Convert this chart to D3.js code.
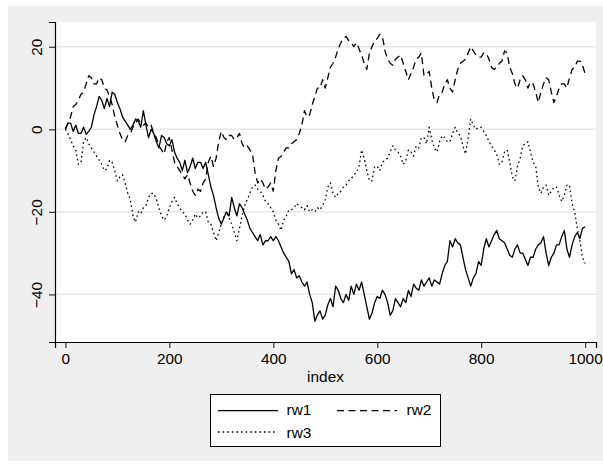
<!DOCTYPE html>
<html>
<head>
<meta charset="utf-8">
<script src="https://cdn.jsdelivr.net/npm/d3@7"></script>
<style>
  body { margin: 0; background: #ffffff; }
  text { font-family: "Liberation Sans", Arial, Helvetica, sans-serif; fill: #000; }
</style>
</head>
<body>
<div id="chart"></div>
<script>
const W = 603, H = 467;
const PLOT = { LEFT: 55, RIGHT: 596, TOP: 22, BOTTOM: 342 };

// index, read every 5 obs
const index = d3.range(0, 1001, 5);
const rw1 = [
  0, 1.5, 1.5, -0.5, 1, -1, -1, 0.5, -1.2, -0.5, 0.5, 3.5, 5.5, 8, 7, 5, 7.5, 5.5, 9, 8.5,
  6.5, 5, 3, 2, 1, 0, 1, 2.5, 2, 0.5, 4.5, 1, -2, 0, -1, -3, -4.5, -1.5, -2, -3.5,
  -4, -2.5, -5.5, -7, -8, -10, -7.5, -10.5, -9, -7, -9.5, -8, -8, -9.5, -8, -11, -14, -16, -19, -21.5,
  -23, -21.5, -20, -21, -16.5, -19, -21, -18, -19, -20.5, -22, -24, -25, -26, -27, -25.5, -28, -27, -27, -26,
  -27, -26, -27, -28.5, -30, -31, -32, -35, -34, -36, -35.5, -37, -38, -37, -40, -42, -46.5, -45, -44, -46,
  -45, -42.5, -41, -43, -38, -39, -41, -42, -40, -41.5, -38, -40, -37.5, -39, -37, -40, -43, -46, -44.5, -42,
  -40.5, -41, -39, -40, -42, -45, -44, -41, -42, -43, -41, -42, -39, -40.5, -37.5, -38.5, -39, -36.5, -38, -37,
  -36, -38, -36.5, -37, -37.5, -35, -33, -32, -27, -28.5, -26.5, -27.5, -28, -31, -34, -36, -38, -36, -35, -32,
  -33, -29, -26.5, -28.5, -27, -25.5, -24.5, -26.5, -27, -27.5, -29, -30.5, -31, -29, -28, -30, -30, -31.5, -33, -31,
  -31, -29, -28, -27.5, -26, -30, -33, -31, -30, -28, -28, -26, -24.5, -29, -31, -28, -26, -25, -26.5, -24,
  -23.6];
const rw2 = [
  0, 1.5, 3, 5.5, 6, 7, 8.5, 9, 11, 13, 12.5, 11, 11, 12.5, 12, 10, 9.5, 8, 6, 3,
  1, -1, -2.5, -3, -1.5, -1, 0.5, 1.5, 2.5, 1.5, 1, 1.5, 0.5, 1, -1, -2, -4, -5, -6, -3,
  -2, -5, -8, -9, -10, -11, -12, -11, -13, -15, -16, -14.5, -15, -13, -12, -8, -6.5, -9, -7, -3,
  -0.5, -2, -2.5, -1.5, -1.5, -2.5, -2, -1, -3.5, -4.5, -4, -5, -6, -10.5, -13, -12, -13, -14.5, -14, -13,
  -15, -10, -7, -6.5, -5.5, -4.5, -4.5, -3.5, -3, -2.5, -1, 1, 4.5, 3, 3.5, 6, 8, 10, 10, 12,
  10, 12.5, 15, 16, 17.5, 19.5, 21, 22, 22.5, 21.5, 21, 20, 21, 19.5, 18, 16, 14.5, 18.5, 20, 21.5,
  22, 23, 22.5, 19, 17, 16, 15.5, 17, 17.5, 18, 16, 14, 12, 13.5, 15, 17, 17.5, 18.5, 13, 13.5,
  14, 10, 7, 6.5, 8.5, 9, 11, 12, 10, 9, 12, 14.5, 16, 16.5, 17, 18.5, 20, 19, 18, 17.5,
  17.5, 18.5, 18.5, 17, 15, 14.5, 15, 16, 16.5, 19, 18.5, 15, 13.5, 11, 10, 12, 13, 12, 10, 11.5,
  11, 9, 6.5, 9, 11, 12.5, 12, 9, 6.5, 8, 10, 11, 11, 10, 12.5, 14.5, 15, 16.5, 16.5, 15.5,
  13.5];
const rw3 = [
  0, -1, -2.5, -4, -5, -8.5, -8, -3, -2, -3.5, -4.5, -5.5, -6.5, -7.5, -8.5, -10, -9.5, -7.5, -8, -10,
  -12.5, -11.5, -11, -13, -15.5, -17, -21, -22.5, -20, -20.5, -19, -18.5, -16.5, -15.5, -15.5, -17, -19, -21, -22, -21,
  -19, -17.5, -16.5, -18, -19, -20, -20.5, -22, -23, -22, -20.5, -21.5, -21, -20, -20, -22.5, -23, -25, -27, -25,
  -23, -21, -20, -21.5, -23, -25, -27, -24, -21, -18.5, -17, -15.5, -14, -13.5, -14.5, -15, -16, -17.5, -18, -19,
  -20, -22, -23, -24.5, -22, -21, -19.5, -19.5, -19, -18, -18.5, -19, -19.5, -18.5, -20, -19.5, -20, -19, -19.5, -18.5,
  -17, -14, -13, -15.5, -16.5, -15.5, -15, -14, -13.5, -12.5, -12, -11, -10.5, -9, -5, -7, -10, -12.5, -12.5, -9,
  -9, -10, -8, -7.5, -7, -5.5, -4, -5, -5.5, -6.5, -8.5, -7.5, -5, -5.5, -6.5, -4, -4.5, -2, -2, -3.5,
  0.5, -2.5, -4.5, -5.5, -3, -1.5, -2, -3, -3, -1, 0.5, -1, -1.5, -4, -6, -2, 2.5, 1, 0, 0.5,
  0.5, -0.5, -1.5, -3, -4, -5, -6, -8.5, -8, -5.5, -5, -8, -11.5, -12.5, -9, -7, -4, -3.5, -3, -5.5,
  -8, -9, -14, -15.5, -14, -13.5, -16, -15, -14, -14, -16, -17.5, -16, -13.5, -13.5, -18, -20, -24, -27, -31,
  -32.5];

const seriesNames = ['rw1', 'rw2', 'rw3'];
const seriesData = [rw1, rw2, rw3];
const dashes = [null, '7,4.5', '1.6,3'];
const xTicks = [0, 200, 400, 600, 800, 1000];
const yTicks = [-40, -20, 0, 20];

const svg = d3.select('#chart').append('svg')
  .attr('width', W)
  .attr('height', H);

svg.append('rect')
  .attr('x', 8).attr('y', 6)
  .attr('width', W - 8).attr('height', 455)
  .attr('fill', '#efefef');

svg.append('rect')
  .attr('x', PLOT.LEFT).attr('y', PLOT.TOP)
  .attr('width', PLOT.RIGHT - PLOT.LEFT).attr('height', PLOT.BOTTOM - PLOT.TOP)
  .attr('fill', '#fff');

const x = d3.scaleLinear().domain([-20, 1021]).range([PLOT.LEFT, PLOT.RIGHT]);
const y = d3.scaleLinear().domain([-51.53, 26]).range([PLOT.BOTTOM, PLOT.TOP]);

// gridlines
svg.append('g')
  .selectAll('line')
  .data(yTicks)
  .enter().append('line')
    .attr('x1', PLOT.LEFT).attr('x2', PLOT.RIGHT)
    .attr('y1', d => y(d)).attr('y2', d => y(d))
    .attr('stroke', '#e6e6e6')
    .attr('stroke-width', 1.4);

// series
const line = d3.line()
  .x((d, i) => x(index[i]))
  .y(d => y(d));

svg.append('g')
  .selectAll('path')
  .data(seriesData)
  .enter().append('path')
    .attr('d', line)
    .attr('fill', 'none')
    .attr('stroke', '#000')
    .attr('stroke-width', 1.3)
    .attr('stroke-linejoin', 'round')
    .attr('stroke-dasharray', (d, i) => dashes[i]);

// axes
const xAxis = svg.append('g')
  .attr('transform', `translate(0, ${PLOT.BOTTOM})`)
  .call(d3.axisBottom(x).tickValues(xTicks).tickFormat(d3.format('d'))
    .tickSizeOuter(0).tickSize(6).tickPadding(5));
const yAxis = svg.append('g')
  .attr('transform', `translate(${PLOT.LEFT}, 0)`)
  .call(d3.axisLeft(y).tickValues(yTicks).tickSizeOuter(0).tickSize(6));

[xAxis, yAxis].forEach(g => {
  g.select('.domain').attr('stroke', '#000').attr('stroke-width', 1.2);
  g.selectAll('.tick line').attr('stroke', '#333').attr('stroke-width', 1.2);
  g.selectAll('.tick text').style('font-size', '15.4px').attr('fill', '#000');
});

yAxis.selectAll('.tick text')
  .attr('transform', 'rotate(-90)')
  .attr('x', 0)
  .attr('y', -13)
  .attr('dy', 0)
  .attr('text-anchor', 'middle');

svg.append('text')
  .attr('x', (PLOT.LEFT + PLOT.RIGHT) / 2)
  .attr('y', 382)
  .attr('text-anchor', 'middle')
  .style('font-size', '15.4px')
  .text('index');

// legend
const legend = svg.append('g');
legend.append('rect')
  .attr('x', 210.5).attr('y', 394.5)
  .attr('width', 230).attr('height', 52)
  .attr('fill', '#fff')
  .attr('stroke', '#000')
  .attr('stroke-width', 1);

const legendPos = [
  { lx: 218, ly: 410.7, tx: 286.5, ty: 415 },
  { lx: 337, ly: 410.7, tx: 406.5, ty: 415 },
  { lx: 218, ly: 432, tx: 286.5, ty: 437.5 }
];

legend.selectAll('.item')
  .data(seriesNames)
  .enter().append('g')
  .each(function (name, i) {
    const p = legendPos[i];
    const g = d3.select(this);
    g.append('line')
      .attr('x1', p.lx).attr('x2', p.lx + 60)
      .attr('y1', p.ly).attr('y2', p.ly)
      .attr('stroke', '#000')
      .attr('stroke-width', 1.3)
      .attr('stroke-dasharray', dashes[i]);
    g.append('text')
      .attr('x', p.tx).attr('y', p.ty)
      .style('font-size', '15.4px')
      .text(name);
  });
</script>
</body>
</html>
